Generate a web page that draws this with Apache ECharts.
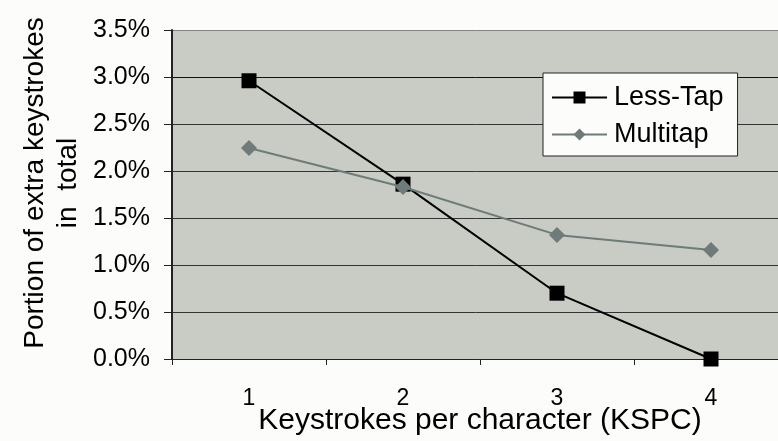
<!DOCTYPE html>
<html>
<head>
<meta charset="utf-8">
<script src="https://cdn.jsdelivr.net/npm/echarts@6/dist/echarts.min.js"></script>
<style>
html,body{margin:0;padding:0;background:#FCFCFB;}
#c{width:778px;height:441px;}
</style>
</head>
<body>
<div id="c"></div>
<script>
const categories = ['1', '2', '3', '4'];
const lessTap = [2.96, 1.86, 0.70, 0.00];
const multitap = [2.245, 1.83, 1.32, 1.16];
const yTicks = { min: 0, max: 3.5, interval: 0.5 };

const chart = echarts.init(document.getElementById('c'));
const font = 'Liberation Sans, Arial, sans-serif';
chart.setOption({
  backgroundColor: '#FCFCFB',
  animation: false,
  grid: { left: 172, top: 30, width: 616, height: 329, show: true, backgroundColor: '#C9CBC5', borderWidth: 0,
    containLabel: false, outerBoundsMode: 'none' },
  legend: {
    orient: 'vertical', left: 543, top: 73,
    padding: [11, 14, 8, 8], itemGap: 10, itemWidth: 55, itemHeight: 15,
    backgroundColor: '#FCFCFB', borderColor: '#222', borderWidth: 1,
    textStyle: { fontFamily: font, fontSize: 27, lineHeight: 26, color: '#000', padding: [0, 0, 0, 2] },
    data: ['Less-Tap', 'Multitap']
  },
  xAxis: {
    type: 'category', data: categories, boundaryGap: true,
    axisLine: { lineStyle: { color: '#222', width: 1 } },
    axisTick: { show: true, length: 6, lineStyle: { color: '#222' } },
    axisLabel: { fontFamily: font, fontSize: 23, color: '#000', margin: 28 },
    name: 'Keystrokes per character (KSPC)', nameLocation: 'middle', nameGap: 47,
    nameMoveOverlap: false,
    nameTextStyle: { fontFamily: font, fontSize: 30, color: '#000' }
  },
  yAxis: {
    type: 'value', min: yTicks.min, max: yTicks.max, interval: yTicks.interval,
    axisLine: { show: true, lineStyle: { color: '#222', width: 2 } },
    axisTick: { show: true, length: 8, lineStyle: { color: '#222' } },
    axisLabel: { fontFamily: font, fontSize: 25, color: '#000', margin: 22,
      formatter: v => v.toFixed(1) + '%' },
    splitLine: { show: true, lineStyle: { width: 1, color: ['#333','#333','#333','#333','#333','#333','#111','#7F8580'] } }
  },
  graphic: [{
    type: 'text', x: 52, y: 183, rotation: Math.PI / 2,
    style: { text: 'Portion of extra keystrokes\nin  total', fontFamily: font, fontSize: 28, lineHeight: 33,
      fill: '#000', align: 'center', verticalAlign: 'middle' }
  }],
  series: [
    { name: 'Less-Tap', type: 'line', data: lessTap, symbol: 'rect', symbolSize: 15,
      itemStyle: { color: '#000' }, lineStyle: { color: '#000', width: 2 }, z: 3 },
    { name: 'Multitap', type: 'line', data: multitap, symbol: 'diamond', symbolSize: 16,
      itemStyle: { color: '#6E7B78' }, lineStyle: { color: '#6E7B78', width: 2 }, z: 4 }
  ]
});
</script>
</body>
</html>
